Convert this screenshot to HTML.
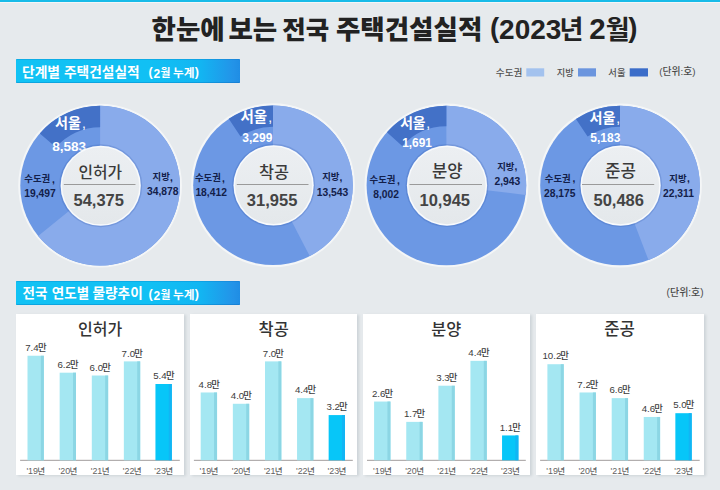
<!DOCTYPE html>
<html lang="ko"><head><meta charset="utf-8"><title>한눈에 보는 전국 주택건설실적 (2023년 2월)</title>
<style>
html,body{margin:0;padding:0}
body{width:720px;height:490px;overflow:hidden;position:relative;background:#e6eaed;font-family:"Liberation Sans",sans-serif}
.topbar{position:absolute;left:0;top:0;width:720px;height:2px;background:#18bbe8;box-shadow:0 1px 0 rgba(255,255,255,.55)}
.hbar{position:absolute;left:16.3px;width:223.5px;height:23.8px;border-radius:.8px;background:linear-gradient(90deg,#11c2f4 0%,#11c0f4 60%,#12b6f2 82%,#2393e8 97%,#1f8de4 100%);box-shadow:inset 0 1px 0 rgba(0,100,180,.22),inset 0 -1px 0 rgba(0,90,170,.28)}
.panel{position:absolute;top:313.7px;height:161.3px;background:#fff;box-shadow:1.8px 1px 2.5px rgba(70,90,100,.15)}
svg{position:absolute;left:0;top:0}
svg text{font-family:"Liberation Sans","Noto Sans CJK KR",sans-serif}
.t{font-weight:800;fill:#222}
.h{font-weight:700;fill:#fff}
.v{font-size:9.7px;fill:#3c3c3c}
.m{font-size:9.4px;font-weight:500;fill:#3c3c3c}
.y{font-size:8.9px;fill:#626262}
.n{font-size:8.5px;font-weight:500;fill:#626262}
.r{font-size:9.4px;font-weight:600;fill:#13204a}
.d{font-size:10.3px;font-weight:700;fill:#13204a}
.s{font-weight:600;fill:#fff}
.sc{font-size:13.8px;fill:#fff}
.sn{font-weight:800;fill:#fff}
.c{font-weight:500;fill:#3a3a3a}
.cn{font-size:16.5px;font-weight:600;fill:#444}
.p{font-weight:500;fill:#333}
</style></head><body>
<div class="topbar"></div>
<div class="hbar" style="top:59.4px"></div>
<div class="hbar" style="top:281px"></div>
<div class="panel" style="left:16.1px;width:168.2px"></div>
<div class="panel" style="left:189.9px;width:167.4px"></div>
<div class="panel" style="left:363px;width:167.3px"></div>
<div class="panel" style="left:536.1px;width:168.1px"></div>
<svg width="720" height="490" viewBox="0 0 720 490">
<text class="t" x="151.53" y="38.76" font-size="26.5">한눈에</text>
<text class="t" x="228.48" y="38.76" font-size="26.5">보는</text>
<text class="t" x="282.23" y="38.76" font-size="25.5">전국</text>
<text class="t" x="335.99" y="38.76" font-size="26.5">주택건설실적</text>
<text x="489.96" y="36.77" font-size="27.5" font-weight="700" fill="#222">(</text>
<text x="499.1" y="38.96" font-size="28" font-weight="700" fill="#222">2023</text>
<text x="559.44" y="39.33" font-size="26" font-weight="700" fill="#222">년</text>
<text x="589.2" y="39.25" font-size="29.5" font-weight="700" fill="#222">2</text>
<text x="605.67" y="39.28" font-size="26" font-weight="700" fill="#222">월</text>
<text x="628.24" y="36.77" font-size="27.5" font-weight="700" fill="#222">)</text>
<text class="h" x="21.94" y="76.8" font-size="13.8">단계별</text>
<text class="h" x="64.03" y="76.8" font-size="13.7">주택건설실적</text>
<text class="h" x="22.51" y="298.28" font-size="13.5">전국</text>
<text class="h" x="51.8" y="298.28" font-size="13.5">연도별</text>
<text class="h" x="92.44" y="298.28" font-size="13.7">물량추이</text>
<text class="h" x="148.61" y="76.03" font-size="12.5">(</text>
<text class="h" x="153.41" y="78" font-size="12">2</text>
<text class="h" x="160.47" y="77.26" font-size="10.8">월</text>
<text class="h" x="173" y="77.19" font-size="11.7">누계</text>
<text class="h" x="194.79" y="76.03" font-size="12.5">)</text>
<text class="h" x="148.61" y="297.73" font-size="12.5">(</text>
<text class="h" x="153.41" y="299.7" font-size="12">2</text>
<text class="h" x="160.47" y="298.96" font-size="10.8">월</text>
<text class="h" x="173" y="298.89" font-size="11.7">누계</text>
<text class="h" x="194.79" y="297.73" font-size="12.5">)</text>
<text x="495.85" y="75.91" font-size="9.6" font-weight="500" fill="#505050">수도권</text>
<text x="556.82" y="75.91" font-size="9.2" font-weight="500" fill="#505050">지방</text>
<text x="608.33" y="75.9" font-size="9.3" font-weight="500" fill="#505050">서울</text>
<text x="659.13" y="75.45" font-size="9.8" font-weight="500" fill="#4a4a4a">(단위:호)</text>
<text x="666.61" y="296.01" font-size="10" font-weight="500" fill="#4a4a4a">(단위:호)</text>
<rect x="526.3" y="68.3" width="17.9" height="8.2" fill="#a3c2ee"/>
<rect x="578" y="68.3" width="18" height="8.2" fill="#6b95de"/>
<rect x="629.7" y="68.3" width="18.3" height="8.2" fill="#3b6dc9"/>
<defs><linearGradient id="hole" x1="0" y1="0" x2="0" y2="1"><stop offset="0" stop-color="#eceff2"/><stop offset="1" stop-color="#e4e8eb"/></linearGradient></defs>
<circle cx="100.1" cy="185.65" r="80.4" fill="none" stroke="#fff" stroke-opacity=".55" stroke-width="3"/>
<circle cx="100.1" cy="185.65" r="79.8" fill="#6c98e4"/>
<path d="M100.1 105.85A79.8 79.8 0 1 1 38.16 235.96L100.1 185.65A0 0 0 1 0 100.1 185.65Z" fill="#89abeb"/>
<path d="M39.8 133.38A79.8 79.8 0 0 1 100.1 105.85L100.1 127.15A58.5 58.5 0 0 0 55.9 147.33Z" fill="#4371c7"/>
<text class="s" x="55.12" y="127.8" font-size="14.1">서울</text>
<text class="sc" x="81.97" y="127.76">,</text>
<text class="sn" x="52.13" y="151.23" font-size="13.6">8,583</text>
<text class="r" x="24.36" y="182.13" font-size="9.7">수도권</text>
<text class="d" x="52.03" y="182.8">,</text>
<text class="d" x="24.25" y="197">19,497</text>
<text class="r" x="152.55" y="180.43" font-size="9.3">지방</text>
<text class="d" x="169.93" y="181.15">,</text>
<text class="d" x="146.99" y="195.4">34,878</text>
<circle cx="100.7" cy="185.75" r="40.7" fill="none" stroke="#2c55a8" stroke-opacity=".22" stroke-width="1.6"/>
<circle cx="100.7" cy="185.75" r="40.1" fill="#f8fafc"/>
<circle cx="100.7" cy="185.75" r="38.6" fill="url(#hole)"/>
<text class="c" x="78.42" y="177.64" font-size="15.8">인허가</text>
<rect x="63.8" y="184" width="71.7" height="1" fill="#9a9a9a"/>
<text class="cn" x="73.47" y="206.09">54,375</text>
<circle cx="273" cy="185.25" r="80.4" fill="none" stroke="#fff" stroke-opacity=".55" stroke-width="3"/>
<circle cx="273" cy="185.25" r="79.8" fill="#6c98e4"/>
<path d="M273 105.45A79.8 79.8 0 0 1 309.76 256.08L273 185.25A0 0 0 0 0 273 185.25Z" fill="#89abeb"/>
<path d="M228.74 118.85A79.8 79.8 0 0 1 273 105.45L273 126.75A58.5 58.5 0 0 0 240.55 136.57Z" fill="#4371c7"/>
<text class="s" x="240.5" y="122.37" font-size="14.5">서울</text>
<text class="sc" x="268.17" y="122.36">,</text>
<text class="sn" x="242.32" y="141.64" font-size="12">3,299</text>
<text class="r" x="194.97" y="180.92" font-size="9.6">수도권</text>
<text class="d" x="222.03" y="181.6">,</text>
<text class="d" x="195.38" y="195.8">18,412</text>
<text class="r" x="322.15" y="180.47" font-size="9.1">지방</text>
<text class="d" x="339.53" y="181.15">,</text>
<text class="d" x="316.76" y="195.5">13,543</text>
<circle cx="273.6" cy="185.35" r="40.7" fill="none" stroke="#2c55a8" stroke-opacity=".22" stroke-width="1.6"/>
<circle cx="273.6" cy="185.35" r="40.1" fill="#f8fafc"/>
<circle cx="273.6" cy="185.35" r="38.6" fill="url(#hole)"/>
<text class="c" x="259.11" y="177.55" font-size="16.3">착공</text>
<rect x="236.8" y="184" width="71.7" height="1" fill="#9a9a9a"/>
<text class="cn" x="246.87" y="206.09">31,955</text>
<circle cx="446.4" cy="185.45" r="80.4" fill="none" stroke="#fff" stroke-opacity=".55" stroke-width="3"/>
<circle cx="446.4" cy="185.45" r="79.8" fill="#6c98e4"/>
<path d="M446.4 105.65A79.8 79.8 0 0 1 525.64 194.9L446.4 185.45A0 0 0 0 0 446.4 185.45Z" fill="#89abeb"/>
<path d="M386.93 132.24A79.8 79.8 0 0 1 446.4 105.65L446.4 126.15A59.3 59.3 0 0 0 402.21 145.91Z" fill="#4371c7"/>
<text class="s" x="400.13" y="127.57" font-size="13.8">서울</text>
<text class="sc" x="426.37" y="127.51">,</text>
<text class="sn" x="402.21" y="147.09" font-size="11.9">1,691</text>
<text class="r" x="369.57" y="182.86" font-size="9.5">수도권</text>
<text class="d" x="397.03" y="183.5">,</text>
<text class="d" x="373.16" y="197.8">8,002</text>
<text class="r" x="497.15" y="169.62" font-size="9.1">지방</text>
<text class="d" x="514.53" y="170.3">,</text>
<text class="d" x="494.42" y="184.7">2,943</text>
<circle cx="447" cy="185.55" r="40.7" fill="none" stroke="#2c55a8" stroke-opacity=".22" stroke-width="1.6"/>
<circle cx="447" cy="185.55" r="40.1" fill="#f8fafc"/>
<circle cx="447" cy="185.55" r="38.6" fill="url(#hole)"/>
<text class="c" x="432.06" y="177.21" font-size="16.6">분양</text>
<rect x="409.5" y="184" width="72.5" height="1" fill="#9a9a9a"/>
<text class="cn" x="419.53" y="206.09">10,945</text>
<circle cx="620" cy="185.5" r="80.4" fill="none" stroke="#fff" stroke-opacity=".55" stroke-width="3"/>
<circle cx="620" cy="185.5" r="79.8" fill="#6c98e4"/>
<path d="M620 105.7A79.8 79.8 0 0 1 648.48 260.05L620 185.5A0 0 0 0 0 620 185.5Z" fill="#89abeb"/>
<path d="M575.94 118.97A79.8 79.8 0 0 1 620 105.7L620 126.8A58.7 58.7 0 0 0 587.59 136.56Z" fill="#4371c7"/>
<text class="s" x="589.52" y="122.72" font-size="14.1">서울</text>
<text class="sc" x="616.37" y="122.66">,</text>
<text class="sn" x="590.31" y="142.44" font-size="12">5,183</text>
<text class="r" x="544.86" y="181.76" font-size="9.6">수도권</text>
<text class="d" x="572.53" y="182.4">,</text>
<text class="d" x="544.06" y="197.1">28,175</text>
<text class="r" x="669.25" y="181.72" font-size="9.3">지방</text>
<text class="d" x="687.03" y="182.4">,</text>
<text class="d" x="662.96" y="196.8">22,311</text>
<circle cx="620.6" cy="185.6" r="40.7" fill="none" stroke="#2c55a8" stroke-opacity=".22" stroke-width="1.6"/>
<circle cx="620.6" cy="185.6" r="40.1" fill="#f8fafc"/>
<circle cx="620.6" cy="185.6" r="38.6" fill="url(#hole)"/>
<text class="c" x="605.06" y="177.14" font-size="16.8">준공</text>
<rect x="582" y="184" width="72.2" height="1" fill="#9a9a9a"/>
<text class="cn" x="593.47" y="206.09">50,486</text>
<text class="p" x="78" y="335.14" font-size="16">인허가</text>
<rect x="20.1" y="459.8" width="159.7" height="1.1" fill="#aaa6a6"/>
<rect x="27.5" y="355.74" width="16.35" height="104.56" fill="#a4e7f2"/><rect x="40.85" y="355.74" width="3" height="104.56" fill="#8cd6e4"/>
<text class="v" x="25.22" y="350.94">7.4</text>
<text class="m" x="37.92" y="350.92">만</text>
<text class="y" x="26.41" y="473.5">'19</text>
<text class="n" x="37.35" y="473.76">년</text>
<rect x="59.65" y="372.69" width="16.35" height="87.61" fill="#a4e7f2"/><rect x="73" y="372.69" width="3" height="87.61" fill="#8cd6e4"/>
<text class="v" x="57.47" y="367.89">6.2</text>
<text class="m" x="69.97" y="367.88">만</text>
<text class="y" x="58.53" y="473.5">'20</text>
<text class="n" x="69.53" y="473.76">년</text>
<rect x="91.8" y="375.52" width="16.35" height="84.78" fill="#a4e7f2"/><rect x="105.15" y="375.52" width="3" height="84.78" fill="#8cd6e4"/>
<text class="v" x="89.57" y="370.72">6.0</text>
<text class="m" x="102.17" y="370.7">만</text>
<text class="y" x="90.72" y="473.5">'21</text>
<text class="n" x="101.64" y="473.76">년</text>
<rect x="123.85" y="361.39" width="16.35" height="98.91" fill="#a4e7f2"/><rect x="137.2" y="361.39" width="3" height="98.91" fill="#8cd6e4"/>
<text class="v" x="121.61" y="356.59">7.0</text>
<text class="m" x="134.22" y="356.57">만</text>
<text class="y" x="122.78" y="473.5">'22</text>
<text class="n" x="133.68" y="473.76">년</text>
<rect x="155.45" y="384" width="16.35" height="76.3" fill="#07c6f8"/><rect x="168.8" y="384" width="3" height="76.3" fill="#12b5f4"/>
<text class="v" x="153.22" y="379.2">5.4</text>
<text class="m" x="165.92" y="379.18">만</text>
<text class="y" x="154.35" y="473.5">'23</text>
<text class="n" x="165.31" y="473.76">년</text>
<text class="p" x="258.58" y="335.14" font-size="16.4">착공</text>
<rect x="193.9" y="459.8" width="158.9" height="1.1" fill="#aaa6a6"/>
<rect x="200.7" y="392.48" width="16.35" height="67.82" fill="#a4e7f2"/><rect x="214.05" y="392.48" width="3" height="67.82" fill="#8cd6e4"/>
<text class="v" x="198.62" y="387.68">4.8</text>
<text class="m" x="211.19" y="387.66">만</text>
<text class="y" x="199.61" y="473.5">'19</text>
<text class="n" x="210.55" y="473.76">년</text>
<rect x="232.85" y="403.78" width="16.35" height="56.52" fill="#a4e7f2"/><rect x="246.2" y="403.78" width="3" height="56.52" fill="#8cd6e4"/>
<text class="v" x="230.75" y="398.98">4.0</text>
<text class="m" x="243.36" y="398.96">만</text>
<text class="y" x="231.73" y="473.5">'20</text>
<text class="n" x="242.73" y="473.76">년</text>
<rect x="265" y="361.39" width="16.35" height="98.91" fill="#a4e7f2"/><rect x="278.35" y="361.39" width="3" height="98.91" fill="#8cd6e4"/>
<text class="v" x="262.76" y="356.59">7.0</text>
<text class="m" x="275.37" y="356.57">만</text>
<text class="y" x="263.92" y="473.5">'21</text>
<text class="n" x="274.84" y="473.76">년</text>
<rect x="297.05" y="398.13" width="16.35" height="62.17" fill="#a4e7f2"/><rect x="310.4" y="398.13" width="3" height="62.17" fill="#8cd6e4"/>
<text class="v" x="294.9" y="393.33">4.4</text>
<text class="m" x="307.6" y="393.31">만</text>
<text class="y" x="295.98" y="473.5">'22</text>
<text class="n" x="306.88" y="473.76">년</text>
<rect x="328.65" y="415.08" width="16.35" height="45.22" fill="#07c6f8"/><rect x="342" y="415.08" width="3" height="45.22" fill="#12b5f4"/>
<text class="v" x="326.53" y="410.28">3.2</text>
<text class="m" x="339.03" y="410.27">만</text>
<text class="y" x="327.55" y="473.5">'23</text>
<text class="n" x="338.51" y="473.76">년</text>
<text class="p" x="431.35" y="334.95" font-size="16.3">분양</text>
<rect x="367" y="459.8" width="158.8" height="1.1" fill="#aaa6a6"/>
<rect x="374.1" y="401.54" width="16.35" height="58.76" fill="#a4e7f2"/><rect x="387.45" y="401.54" width="3" height="58.76" fill="#8cd6e4"/>
<text class="v" x="371.89" y="396.74">2.6</text>
<text class="m" x="384.45" y="396.72">만</text>
<text class="y" x="373.01" y="473.5">'19</text>
<text class="n" x="383.95" y="473.76">년</text>
<rect x="406.25" y="421.88" width="16.35" height="38.42" fill="#a4e7f2"/><rect x="419.6" y="421.88" width="3" height="38.42" fill="#8cd6e4"/>
<text class="v" x="403.95" y="417.08">1.7</text>
<text class="m" x="416.45" y="417.06">만</text>
<text class="y" x="405.13" y="473.5">'20</text>
<text class="n" x="416.13" y="473.76">년</text>
<rect x="438.4" y="385.72" width="16.35" height="74.58" fill="#a4e7f2"/><rect x="451.75" y="385.72" width="3" height="74.58" fill="#8cd6e4"/>
<text class="v" x="436.25" y="380.92">3.3</text>
<text class="m" x="448.81" y="380.9">만</text>
<text class="y" x="437.32" y="473.5">'21</text>
<text class="n" x="448.24" y="473.76">년</text>
<rect x="470.45" y="360.86" width="16.35" height="99.44" fill="#a4e7f2"/><rect x="483.8" y="360.86" width="3" height="99.44" fill="#8cd6e4"/>
<text class="v" x="468.3" y="356.06">4.4</text>
<text class="m" x="481" y="356.04">만</text>
<text class="y" x="469.38" y="473.5">'22</text>
<text class="n" x="480.28" y="473.76">년</text>
<rect x="502.05" y="435.44" width="16.35" height="24.86" fill="#07c6f8"/><rect x="515.4" y="435.44" width="3" height="24.86" fill="#12b5f4"/>
<text class="v" x="499.74" y="430.64">1.1</text>
<text class="m" x="512.26" y="430.62">만</text>
<text class="y" x="500.95" y="473.5">'23</text>
<text class="n" x="511.91" y="473.76">년</text>
<text class="p" x="604.25" y="334.89" font-size="16.7">준공</text>
<rect x="540.1" y="459.8" width="159.6" height="1.1" fill="#aaa6a6"/>
<rect x="547.4" y="364.22" width="16.35" height="96.08" fill="#a4e7f2"/><rect x="560.75" y="364.22" width="3" height="96.08" fill="#8cd6e4"/>
<text class="v" x="542.46" y="359.42">10.2</text>
<text class="m" x="560.24" y="359.4">만</text>
<text class="y" x="546.31" y="473.5">'19</text>
<text class="n" x="557.25" y="473.76">년</text>
<rect x="579.55" y="392.48" width="16.35" height="67.82" fill="#a4e7f2"/><rect x="592.9" y="392.48" width="3" height="67.82" fill="#8cd6e4"/>
<text class="v" x="577.37" y="387.68">7.2</text>
<text class="m" x="589.87" y="387.66">만</text>
<text class="y" x="578.43" y="473.5">'20</text>
<text class="n" x="589.43" y="473.76">년</text>
<rect x="611.7" y="398.13" width="16.35" height="62.17" fill="#a4e7f2"/><rect x="625.05" y="398.13" width="3" height="62.17" fill="#8cd6e4"/>
<text class="v" x="609.49" y="393.33">6.6</text>
<text class="m" x="622.05" y="393.31">만</text>
<text class="y" x="610.62" y="473.5">'21</text>
<text class="n" x="621.54" y="473.76">년</text>
<rect x="643.75" y="416.97" width="16.35" height="43.33" fill="#a4e7f2"/><rect x="657.1" y="416.97" width="3" height="43.33" fill="#8cd6e4"/>
<text class="v" x="641.67" y="412.17">4.6</text>
<text class="m" x="654.23" y="412.15">만</text>
<text class="y" x="642.68" y="473.5">'22</text>
<text class="n" x="653.58" y="473.76">년</text>
<rect x="675.35" y="413.2" width="16.35" height="47.1" fill="#07c6f8"/><rect x="688.7" y="413.2" width="3" height="47.1" fill="#12b5f4"/>
<text class="v" x="673.17" y="408.4">5.0</text>
<text class="m" x="685.78" y="408.38">만</text>
<text class="y" x="674.25" y="473.5">'23</text>
<text class="n" x="685.21" y="473.76">년</text>
</svg>
</body></html>
